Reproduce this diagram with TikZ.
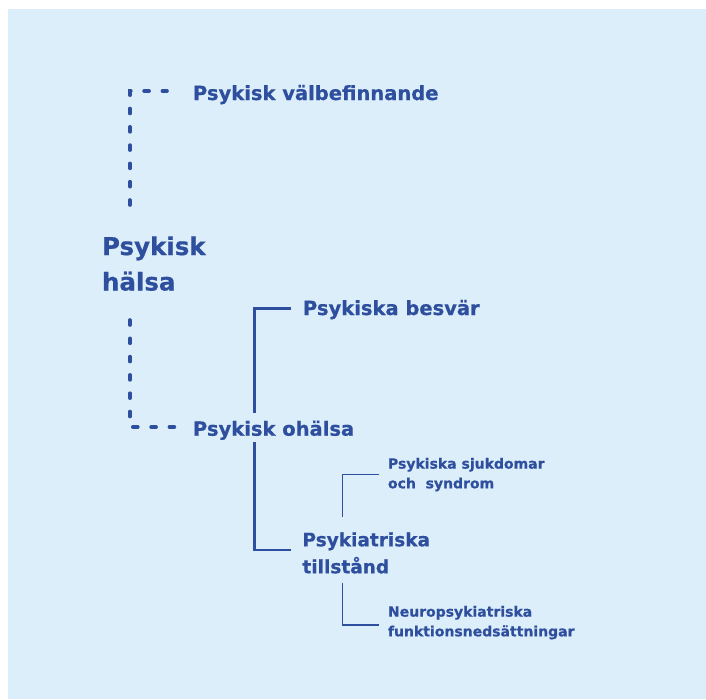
\documentclass[tikz,border=0pt]{standalone}
\usepackage{fontspec}
\setmainfont{DejaVu Sans}[BoldFeatures={FakeBold=0.6}]
\definecolor{bgblue}{HTML}{DCEEFA}
\definecolor{ink}{HTML}{2E4E9E}
\tikzset{
  lbl/.style={inner sep=0pt, outer sep=0pt, text=ink, anchor=base west, align=left},
  bigtxt/.style={lbl, font=\bfseries\fontsize{24.5}{35.5}\selectfont},
  midtxt/.style={lbl, font=\bfseries\fontsize{19.5}{26}\selectfont},
  psttxt/.style={lbl, font=\bfseries\fontsize{18.5}{27}\selectfont},
  smltxt/.style={lbl, font=\bfseries\fontsize{14}{19.7}\selectfont},
  dashline/.style={draw=ink, line width=3.6pt, line cap=round, dash pattern=on 5pt off 13.3pt},
  thickline/.style={draw=ink, line width=2.8pt},
  thinline/.style={draw=ink, line width=1.3pt}
}
\begin{document}
\begin{tikzpicture}[x=1pt,y=-1pt]
\useasboundingbox (0,0) rectangle (706,699);
\fill[bgblue] (8,9) rectangle (706,699);

% multi-line nodes: base anchor = baseline of last line
\node[bigtxt] (ph) at (102,290.5) {Psykisk\\hälsa};
\node[midtxt] (vb) at (193,100) {Psykisk välbefinnande};
\node[midtxt] (oh) at (193,435.7) {Psykisk ohälsa};
\node[midtxt] (bes) at (303,315) {Psykiska besvär};
\node[psttxt] (pt) at (302.5,573.3) {Psykiatriska\\tillstånd};
\node[smltxt] (sj) at (388,488.3) {Psykiska sjukdomar\\och\ \ syndrom};
\node[smltxt] (np) at (388,636.3) {Neuropsykiatriska\\funktionsnedsättningar};

% dashed connectors
\coordinate (dA) at (130,205);
\coordinate (dB) at (167,91);
\coordinate (dC) at (130,320);
\coordinate (dD) at (174.4,427);
\draw[dashline] (dA) |- (dB);
\draw[dashline] (dC) |- (dD);

% thick bracket
\coordinate (tA) at (290.5,308.3);
\coordinate (tB) at (254.2,413);
\coordinate (tC) at (254.2,442);
\coordinate (tD) at (290.5,550);
\draw[thickline] (tA) -| (tB);
\draw[thickline] (tC) |- (tD);

% thin bracket
\coordinate (sA) at (379,474.3);
\coordinate (sB) at (342.3,517.3);
\coordinate (sC) at (342.3,583.3);
\coordinate (sD) at (379,625);
\draw[thinline] (sA) -| (sB);
\draw[thinline] (sC) |- (sD);
\end{tikzpicture}
\end{document}
